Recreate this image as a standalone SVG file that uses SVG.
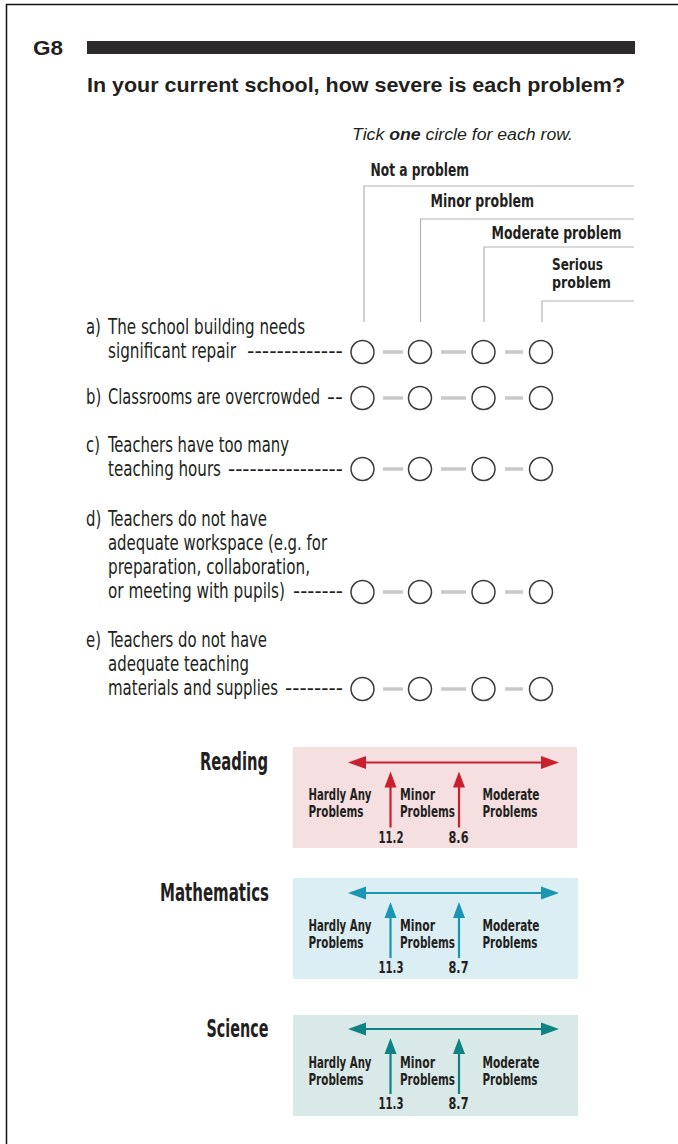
<svg xmlns="http://www.w3.org/2000/svg" width="678" height="1144" viewBox="0 0 678 1144">
<style>
.cond{font-family:"Liberation Sans Narrow","DejaVu Sans Condensed","Arial Narrow",sans-serif;fill:#231f20}
.row{font-size:16.5px}
.hdr{font-size:15px;font-weight:bold}
.bl{font-size:15px;font-weight:bold}
.subj{font-size:24px;font-weight:bold}
.hline{stroke:#b3b3b3;stroke-width:1.2;fill:none}
.opt{fill:#fff;stroke:#3a3a3a;stroke-width:1.5}
.conn{stroke:#c8c8c8;stroke-width:3.5}
.red{stroke:#c9202f;fill:#c9202f}
.blue{stroke:#1a95b3;fill:#1a95b3}
.teal{stroke:#0f8383;fill:#0f8383}
</style>
<defs>
<g id="circles">
<line class="conn" x1="383" y1="0" x2="403" y2="0"/>
<line class="conn" x1="441" y1="0" x2="466" y2="0"/>
<line class="conn" x1="505" y1="0" x2="523" y2="0"/>
<circle class="opt" cx="362.5" cy="0" r="11.5"/>
<circle class="opt" cx="420" cy="0" r="11.5"/>
<circle class="opt" cx="483.5" cy="0" r="11.5"/>
<circle class="opt" cx="541" cy="0" r="11.5"/>
</g>
<g id="arrows">
<line x1="360" y1="0" x2="547" y2="0" stroke-width="2.2"/>
<polygon points="348,0 366,-6.5 366,6.5" stroke="none"/>
<polygon points="559,0 541,-6.5 541,6.5" stroke="none"/>
<line x1="390.5" y1="20" x2="390.5" y2="65" stroke-width="2.2"/>
<polygon points="390.5,9 384.5,25 396.5,25" stroke="none"/>
<line x1="459" y1="20" x2="459" y2="65" stroke-width="2.2"/>
<polygon points="459,9 453,25 465,25" stroke="none"/>
</g>
</defs>
<rect width="678" height="1144" fill="#fff"/>
<g id="frame">
<line x1="6" y1="4.5" x2="678" y2="4.5" stroke="#111" stroke-width="1.5"/>
<line x1="6.5" y1="4" x2="6.5" y2="1144" stroke="#111" stroke-width="1.5"/>
</g>
<g id="heading">
<text x="33" y="55" font-family="Liberation Sans, sans-serif" font-weight="bold" font-size="21" fill="#231f20" textLength="30" lengthAdjust="spacingAndGlyphs">G8</text>
<rect x="87" y="41" width="548" height="13" fill="#2d2a2b"/>
<text x="87" y="92" font-family="Liberation Sans, sans-serif" font-weight="bold" font-size="21" fill="#231f20" textLength="538" lengthAdjust="spacingAndGlyphs">In your current school, how severe is each problem?</text>
<text x="352" y="140" font-family="Liberation Sans, sans-serif" font-style="italic" font-size="16" fill="#231f20" textLength="221" lengthAdjust="spacingAndGlyphs">Tick <tspan font-weight="bold">one</tspan> circle for each row.</text>
</g>
<g id="header">
<path class="hline" d="M364,322 V186 H634 M420.5,322 V219 H634 M484,322 V247 H634 M542,322 V301 H634"/>
<text class="cond hdr" transform="translate(370.5,176) scale(1,1.13)" textLength="98.5" lengthAdjust="spacingAndGlyphs">Not a problem</text>
<text class="cond hdr" transform="translate(430.5,207) scale(1,1.13)" textLength="103.5" lengthAdjust="spacingAndGlyphs">Minor problem</text>
<text class="cond hdr" transform="translate(491.5,239) scale(1,1.13)" textLength="130" lengthAdjust="spacingAndGlyphs">Moderate problem</text>
<text class="cond hdr" x="552" y="269.5" textLength="51" lengthAdjust="spacingAndGlyphs">Serious</text>
<text class="cond hdr" x="552" y="287.5" textLength="59" lengthAdjust="spacingAndGlyphs">problem</text>
</g>
<g id="item-a">
<text class="cond row" transform="translate(86,334) scale(1,1.25)">a)</text>
<text class="cond row" transform="translate(108,334) scale(1,1.25)" textLength="197" lengthAdjust="spacingAndGlyphs">The school building needs</text>
<text class="cond row" transform="translate(108,358) scale(1,1.25)" textLength="128" lengthAdjust="spacingAndGlyphs">significant repair</text>
<text class="cond row" transform="translate(247,358) scale(1,1.25)" textLength="96" lengthAdjust="spacingAndGlyphs">-------------</text>
<use href="#circles" y="352"/>
</g>
<g id="item-b">
<text class="cond row" transform="translate(86,404) scale(1,1.25)">b)</text>
<text class="cond row" transform="translate(108,404) scale(1,1.25)" textLength="212" lengthAdjust="spacingAndGlyphs">Classrooms are overcrowded</text>
<text class="cond row" transform="translate(327,404) scale(1,1.25)" textLength="16" lengthAdjust="spacingAndGlyphs">--</text>
<use href="#circles" y="398"/>
</g>
<g id="item-c">
<text class="cond row" transform="translate(86,452) scale(1,1.25)">c)</text>
<text class="cond row" transform="translate(108,452) scale(1,1.25)" textLength="181" lengthAdjust="spacingAndGlyphs">Teachers have too many</text>
<text class="cond row" transform="translate(108,476) scale(1,1.25)" textLength="113" lengthAdjust="spacingAndGlyphs">teaching hours</text>
<text class="cond row" transform="translate(228,476) scale(1,1.25)" textLength="115" lengthAdjust="spacingAndGlyphs">----------------</text>
<use href="#circles" y="469"/>
</g>
<g id="item-d">
<text class="cond row" transform="translate(86,526) scale(1,1.25)">d)</text>
<text class="cond row" transform="translate(108,526) scale(1,1.25)" textLength="159" lengthAdjust="spacingAndGlyphs">Teachers do not have</text>
<text class="cond row" transform="translate(108,550) scale(1,1.25)" textLength="219" lengthAdjust="spacingAndGlyphs">adequate workspace (e.g. for</text>
<text class="cond row" transform="translate(108,574) scale(1,1.25)" textLength="202" lengthAdjust="spacingAndGlyphs">preparation, collaboration,</text>
<text class="cond row" transform="translate(108,598) scale(1,1.25)" textLength="177" lengthAdjust="spacingAndGlyphs">or meeting with pupils)</text>
<text class="cond row" transform="translate(293,598) scale(1,1.25)" textLength="50" lengthAdjust="spacingAndGlyphs">-------</text>
<use href="#circles" y="592"/>
</g>
<g id="item-e">
<text class="cond row" transform="translate(86,647) scale(1,1.25)">e)</text>
<text class="cond row" transform="translate(108,647) scale(1,1.25)" textLength="159" lengthAdjust="spacingAndGlyphs">Teachers do not have</text>
<text class="cond row" transform="translate(108,671) scale(1,1.25)" textLength="141" lengthAdjust="spacingAndGlyphs">adequate teaching</text>
<text class="cond row" transform="translate(108,695) scale(1,1.25)" textLength="170" lengthAdjust="spacingAndGlyphs">materials and supplies</text>
<text class="cond row" transform="translate(285,695) scale(1,1.25)" textLength="58" lengthAdjust="spacingAndGlyphs">--------</text>
<use href="#circles" y="689"/>
</g>
<g id="reading">
<text class="cond subj" x="268" y="770" text-anchor="end" textLength="68" lengthAdjust="spacingAndGlyphs">Reading</text>
<rect x="293" y="747" width="284" height="101" fill="#f6dfe0"/>
<use href="#arrows" y="762.5" class="red"/>
<text class="cond bl" x="308.5" y="800" textLength="63" lengthAdjust="spacingAndGlyphs">Hardly Any</text>
<text class="cond bl" x="308.5" y="817" textLength="55" lengthAdjust="spacingAndGlyphs">Problems</text>
<text class="cond bl" x="400" y="800" textLength="35" lengthAdjust="spacingAndGlyphs">Minor</text>
<text class="cond bl" x="400" y="817" textLength="55" lengthAdjust="spacingAndGlyphs">Problems</text>
<text class="cond bl" x="482.5" y="800" textLength="57" lengthAdjust="spacingAndGlyphs">Moderate</text>
<text class="cond bl" x="482.5" y="817" textLength="55" lengthAdjust="spacingAndGlyphs">Problems</text>
<text class="cond bl" x="378.5" y="843" textLength="25" lengthAdjust="spacingAndGlyphs">11.2</text>
<text class="cond bl" x="448.5" y="843" textLength="20" lengthAdjust="spacingAndGlyphs">8.6</text>
</g>
<g id="mathematics">
<text class="cond subj" x="269" y="901" text-anchor="end" textLength="109" lengthAdjust="spacingAndGlyphs">Mathematics</text>
<rect x="293" y="878" width="285" height="101" fill="#dbeef3"/>
<use href="#arrows" y="893" class="blue"/>
<text class="cond bl" x="308.5" y="931" textLength="63" lengthAdjust="spacingAndGlyphs">Hardly Any</text>
<text class="cond bl" x="308.5" y="948" textLength="55" lengthAdjust="spacingAndGlyphs">Problems</text>
<text class="cond bl" x="400" y="931" textLength="35" lengthAdjust="spacingAndGlyphs">Minor</text>
<text class="cond bl" x="400" y="948" textLength="55" lengthAdjust="spacingAndGlyphs">Problems</text>
<text class="cond bl" x="482.5" y="931" textLength="57" lengthAdjust="spacingAndGlyphs">Moderate</text>
<text class="cond bl" x="482.5" y="948" textLength="55" lengthAdjust="spacingAndGlyphs">Problems</text>
<text class="cond bl" x="378.5" y="973" textLength="25" lengthAdjust="spacingAndGlyphs">11.3</text>
<text class="cond bl" x="448.5" y="973" textLength="20" lengthAdjust="spacingAndGlyphs">8.7</text>
</g>
<g id="science">
<text class="cond subj" x="268.5" y="1037" text-anchor="end" textLength="62" lengthAdjust="spacingAndGlyphs">Science</text>
<rect x="293" y="1015" width="285" height="101" fill="#d9e9e8"/>
<use href="#arrows" y="1029" class="teal"/>
<text class="cond bl" x="308.5" y="1068" textLength="63" lengthAdjust="spacingAndGlyphs">Hardly Any</text>
<text class="cond bl" x="308.5" y="1085" textLength="55" lengthAdjust="spacingAndGlyphs">Problems</text>
<text class="cond bl" x="400" y="1068" textLength="35" lengthAdjust="spacingAndGlyphs">Minor</text>
<text class="cond bl" x="400" y="1085" textLength="55" lengthAdjust="spacingAndGlyphs">Problems</text>
<text class="cond bl" x="482.5" y="1068" textLength="57" lengthAdjust="spacingAndGlyphs">Moderate</text>
<text class="cond bl" x="482.5" y="1085" textLength="55" lengthAdjust="spacingAndGlyphs">Problems</text>
<text class="cond bl" x="378.5" y="1109" textLength="25" lengthAdjust="spacingAndGlyphs">11.3</text>
<text class="cond bl" x="448.5" y="1109" textLength="20" lengthAdjust="spacingAndGlyphs">8.7</text>
</g>
</svg>
